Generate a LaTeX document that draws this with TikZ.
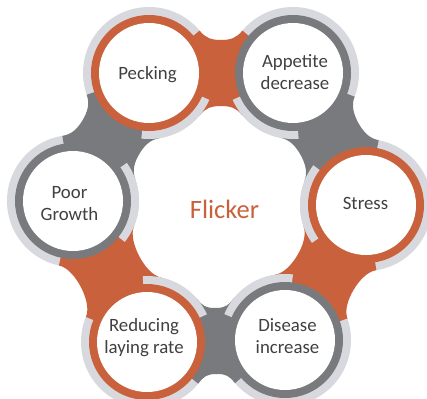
\documentclass[tikz,border=0pt]{standalone}
\usepackage{fontspec}
\setmainfont{Carlito}
\usetikzlibrary{calc}
\definecolor{lkorange}{RGB}{201,98,60}
\definecolor{lkgray}{RGB}{120,122,125}
\definecolor{lkhalo}{RGB}{216,217,222}
\definecolor{lktext}{RGB}{64,64,64}
% link (neck) between two circle centres #1 and #2, colour #3
\newcommand{\chainlink}[3]{%
  \coordinate (lkm) at ($(#1)!0.5!(#2)$);
  \fill[#3] (#1) -- ($(#1)!66pt!40:(#2)$)
    .. controls ($(#1)!66.5pt!32:(#2)$) and ($(lkm)!34.5pt!106.9:(#2)$) .. ($(lkm)!33pt!90:(#2)$)
    .. controls ($(lkm)!34.5pt!73.1:(#2)$) and ($(#2)!66.5pt!-32:(#1)$) .. ($(#2)!66pt!-40:(#1)$)
    -- (#2) -- ($(#2)!66pt!40:(#1)$)
    .. controls ($(#2)!66.5pt!32:(#1)$) and ($(lkm)!34.5pt!-73.1:(#2)$) .. ($(lkm)!33pt!-90:(#2)$)
    .. controls ($(lkm)!34.5pt!-106.9:(#2)$) and ($(#1)!66.5pt!-32:(#2)$) .. ($(#1)!66pt!-40:(#2)$)
    -- cycle;}
% inner (centre-facing) part of the halo of circle #2, between neighbours #1 (previous) and #3 (next)
\newcommand{\innerhalo}[3]{%
  \begin{scope}
    \clip (#2) -- ($(#2)!120pt!24:(#1)$) -- ($(#2)!120pt!(ctr)$) -- ($(#2)!120pt!-24:(#3)$) -- cycle;
    \fill[lkhalo] (#2) circle[radius=66pt];
  \end{scope}}
\begin{document}
\begin{tikzpicture}[x=1pt,y=-1pt,
  bubble/.style={circle, fill=white, minimum size=100pt, inner sep=0pt},
  lbl/.style={anchor=base, align=center, text=lktext, font=\fontsize{18.8}{22}\selectfont},
  title/.style={anchor=base, text=lkorange, font=\fontsize{26.5}{30}\selectfont}]
\useasboundingbox[fill=white] (0,0) rectangle (427,398);
% centres
\coordinate (ctr) at (220,207);
\coordinate (pe) at (149,73);
\coordinate (ap) at (293,73);
\coordinate (st) at (366,205);
\coordinate (di) at (285,340);
\coordinate (re) at (147,342);
\coordinate (po) at (73,201);
% halos
\foreach \c in {pe,ap,st,di,re,po} \fill[lkhalo] (\c) circle[radius=66pt];
% links
\chainlink{pe}{ap}{lkorange}
\chainlink{ap}{st}{lkgray}
\chainlink{st}{di}{lkorange}
\chainlink{di}{re}{lkgray}
\chainlink{re}{po}{lkorange}
\chainlink{po}{pe}{lkgray}
% centre-facing halo arcs
\innerhalo{po}{pe}{ap}
\innerhalo{pe}{ap}{st}
\innerhalo{ap}{st}{di}
\innerhalo{st}{di}{re}
\innerhalo{di}{re}{po}
\innerhalo{re}{po}{pe}
% coloured rings
\foreach \c in {pe,st,re} \fill[lkorange] (\c) circle[radius=58pt];
\foreach \c in {ap,di,po} \fill[lkgray] (\c) circle[radius=58pt];
% white discs
\node[bubble] (npe) at (pe) {};
\node[bubble] (nap) at (ap) {};
\node[bubble] (nst) at (st) {};
\node[bubble] (ndi) at (di) {};
\node[bubble] (nre) at (re) {};
\node[bubble] (npo) at (po) {};
% texts (base anchor = baseline of last line)
\node[lbl] (tpe) at (147.5,80) {Pecking};
\node[lbl] (tap) at (295,90) {Appetite\\decrease};
\node[lbl] (tst) at (365.5,209) {Stress};
\node[lbl] (tdi) at (287.5,353) {Disease\\increase};
\node[lbl] (tre) at (144,353) {Reducing\\laying rate};
\node[lbl] (tpo) at (69.5,220.7) {Poor\\Growth};
\node[title] (fl) at (224.5,218) {Flicker};
\end{tikzpicture}
\end{document}
